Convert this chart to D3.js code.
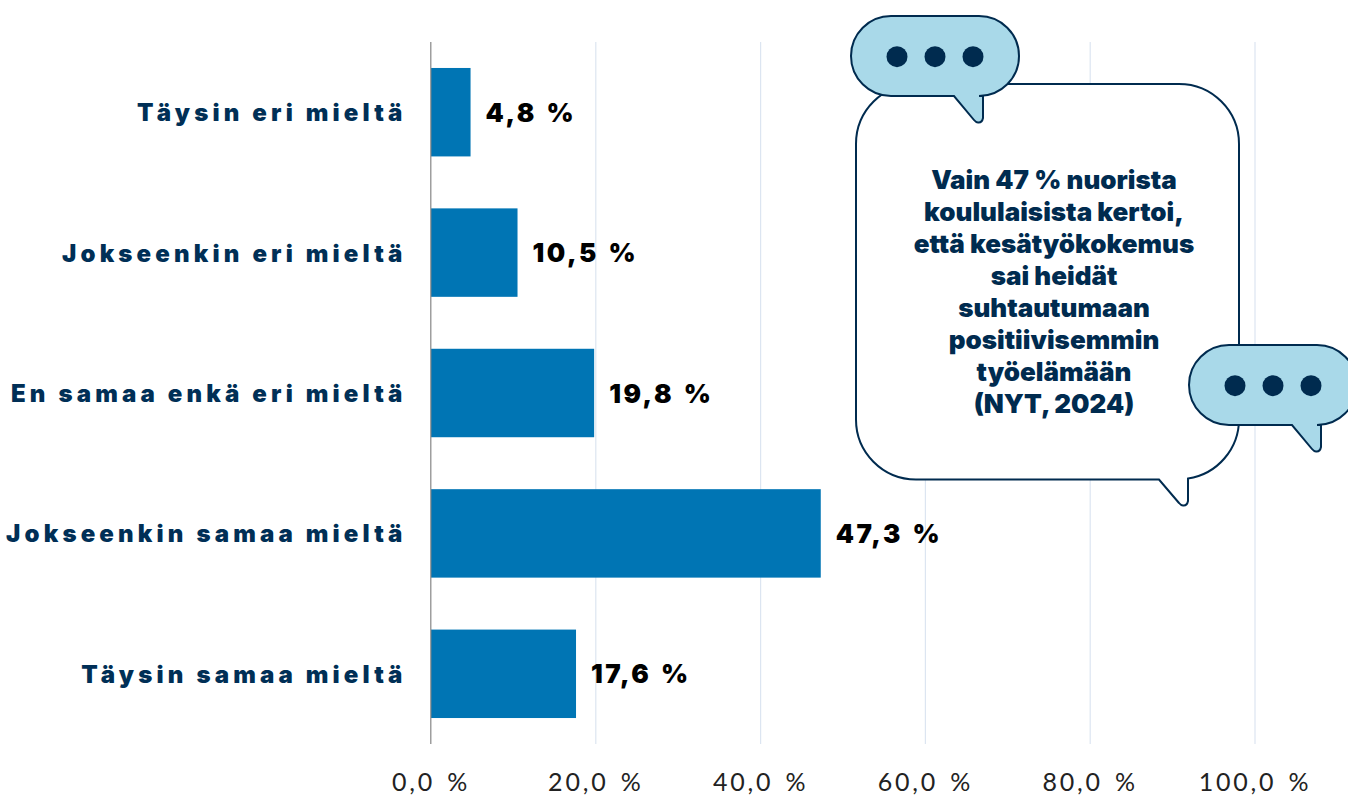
<!DOCTYPE html>
<html><head><meta charset="utf-8">
<script src="https://cdn.jsdelivr.net/npm/d3@7"></script>
<style>html,body{margin:0;padding:0;background:#fff}svg{display:block}</style>
</head><body><svg id="c" width="1348" height="796"></svg>
<script>
const categories=["Täysin eri mieltä","Jokseenkin eri mieltä","En samaa enkä eri mieltä","Jokseenkin samaa mieltä","Täysin samaa mieltä"];
const values=[4.8,10.5,19.8,47.3,17.6];
const valueLabels=["4,8 %","10,5 %","19,8 %","47,3 %","17,6 %"];
const ticks=[0,20,40,60,80,100];
const tickLabels=["0,0 %","20,0 %","40,0 %","60,0 %","80,0 %","100,0 %"];
const calloutLines=["Vain 47 % nuorista","koululaisista kertoi,","että kesätyökokemus","sai heidät","suhtautumaan","positiivisemmin","työelämään","(NYT, 2024)"];
const svg=d3.select("#c");
const x=d3.scaleLinear().domain([0,100]).range([431,1255]);
const y=d3.scaleBand().domain(categories).range([42,744]).paddingInner(0.37).paddingOuter(0.185);
const font="Inter, Lato, sans-serif";
svg.selectAll("line.g").data(ticks.slice(1)).join("line").attr("class","g")
 .attr("x1",d=>x(d)).attr("x2",d=>x(d)).attr("y1",42).attr("y2",744).attr("stroke","#dce5f1").attr("stroke-width",1.2);
svg.selectAll("rect.b").data(values).join("rect").attr("class","b")
 .attr("x",x(0)).attr("y",(d,i)=>y(categories[i])).attr("width",d=>x(d)-x(0)).attr("height",y.bandwidth()).attr("fill","#0075b4");
svg.append("line").attr("x1",x(0)-0.2).attr("x2",x(0)-0.2).attr("y1",42).attr("y2",744).attr("stroke","#868686").attr("stroke-width",1.2);
svg.selectAll("text.c").data(categories).join("text").attr("class","c")
 .attr("x",406.5).attr("y",d=>y(d)+y.bandwidth()/2+9).attr("text-anchor","end")
 .attr("font-family",font).attr("font-weight",900).attr("font-size",24).attr("letter-spacing",4.15).attr("fill","#002f56").text(d=>d);
svg.selectAll("text.v").data(values).join("text").attr("class","v")
 .attr("x",d=>x(d)+15).attr("y",(d,i)=>y(categories[i])+y.bandwidth()/2+9.5)
 .attr("font-family",font).attr("font-weight",900).attr("font-size",26).attr("letter-spacing",2.5).attr("word-spacing",2).attr("fill","#000").text((d,i)=>valueLabels[i]);
svg.selectAll("text.t").data(ticks).join("text").attr("class","t")
 .attr("x",d=>x(d)).attr("y",791).attr("text-anchor","middle")
 .attr("font-family","Lato, sans-serif").attr("font-size",25).attr("letter-spacing",2.8).attr("word-spacing",3).attr("fill","#222").text((d,i)=>tickLabels[i]);
const nav="#002b4f", light="#a9d9e9";
const R=60;
svg.append("path").attr("fill","#fff").attr("stroke",nav).attr("stroke-width",2)
 .attr("d",`M${856+R} 84H${1239-R}A${R} ${R} 0 0 1 1239 ${84+R}V${479-R}A${R} ${R} 0 0 1 1188 478.5V501Q1187 506 1183 505.5Q1181 505.5 1179 503L1159 479.5H${856+R}A${R} ${R} 0 0 1 856 ${479-R}V${84+R}A${R} ${R} 0 0 1 ${856+R} 84Z`);
function bubble(px,py,w,h,tail){
 const g=svg.append("g").attr("transform",`translate(${px},${py})`);
 const r=40;
 g.append("path").attr("fill",light).attr("stroke",nav).attr("stroke-width",2)
  .attr("d",`M${r} 0H${w-r}A${r} ${r} 0 0 1 ${w-r} ${h}H${tail[1]}V${h+22}Q${tail[1]-1} ${h+27} ${tail[1]-5} ${h+26.5}Q${tail[1]-7} ${h+26.5} ${tail[1]-9} ${h+24}L${tail[0]} ${h}H${r}A${r} ${r} 0 0 1 ${r} 0Z`);
 g.selectAll("circle").data([46,84,122]).join("circle").attr("cx",d=>d).attr("cy",h/2+0.7).attr("r",10.5).attr("fill",nav);
}
bubble(851,16,168,80,[103,132]);
bubble(1189,345,168,80,[103,132]);
svg.append("g").selectAll("text").data(calloutLines).join("text")
 .attr("x",1054).attr("y",(d,i)=>188.5+i*32).attr("text-anchor","middle")
 .attr("font-family",font).attr("font-weight",900).attr("font-size",26).attr("fill",nav).text(d=>d);
</script></body></html>
